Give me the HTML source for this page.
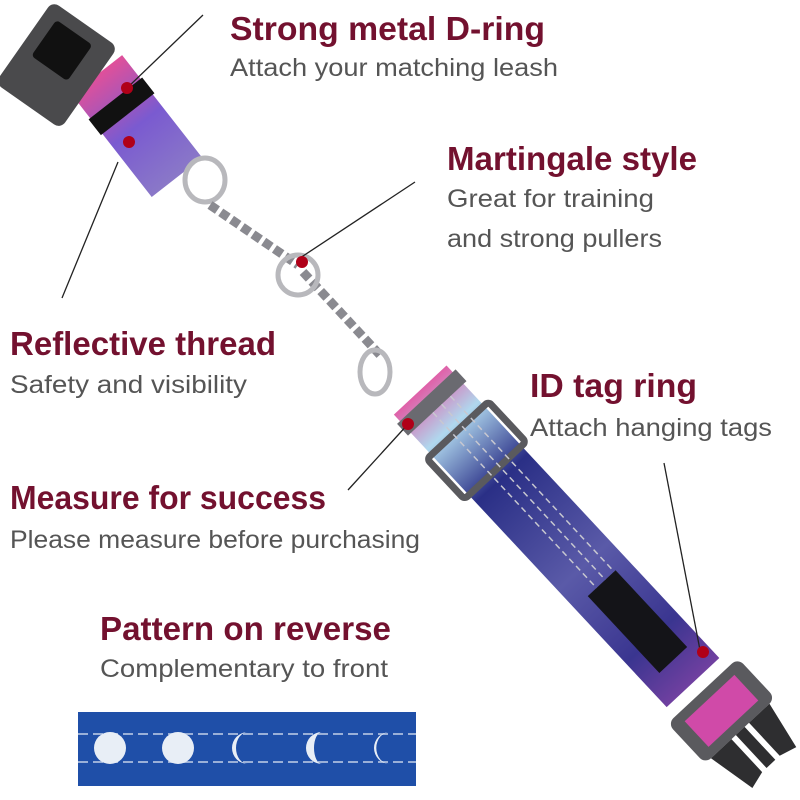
<!DOCTYPE html>
<html><head><meta charset="utf-8"><style>
html,body{margin:0;padding:0;background:#fff;}
svg{display:block;}
.h{font-family:"Liberation Sans",sans-serif;font-weight:bold;fill:#73112f;font-size:33px;}
.s{font-family:"Liberation Sans",sans-serif;fill:#555;font-size:25px;}
</style></head><body>
<svg width="800" height="800" viewBox="0 0 800 800" xmlns="http://www.w3.org/2000/svg">
<defs>
<linearGradient id="g1" x1="0" y1="0" x2="1" y2="0">
<stop offset="0" stop-color="#e0509a"/><stop offset="0.5" stop-color="#7a5ad0"/><stop offset="1" stop-color="#8a78c8"/>
</linearGradient>
<linearGradient id="g2" x1="0" y1="0" x2="1" y2="0">
<stop offset="0" stop-color="#e060a8"/><stop offset="0.12" stop-color="#b0d8ee"/><stop offset="0.3" stop-color="#2a2f86"/><stop offset="0.6" stop-color="#5a5aa8"/><stop offset="0.85" stop-color="#3a3590"/><stop offset="1" stop-color="#7040a0"/>
</linearGradient>
</defs>

<!-- upper strap -->
<g transform="translate(140,130) rotate(52)">
<rect x="-70" y="-32" width="130" height="64" fill="url(#g1)"/>
<path d="M-40 -34 L-20 -34 L-20 34 L-40 34 Z" fill="#111"/>
</g>
<!-- top buckle -->
<g transform="translate(52,68) rotate(35)">
<rect x="-38" y="-55" width="80" height="100" rx="8" fill="#4a4a4c"/>
<rect x="-24" y="-42" width="44" height="44" rx="4" fill="#111"/>
</g>
<!-- rings and chain -->
<ellipse cx="205" cy="180" rx="20" ry="22" fill="none" stroke="#b8b8bc" stroke-width="5"/>
<g stroke="#8a8a90" stroke-width="9" fill="none">
<path d="M210 205 L298 265" stroke-dasharray="9 4"/>
<path d="M303 272 L380 355" stroke-dasharray="9 4"/>
</g>
<circle cx="298" cy="275" r="20" fill="none" stroke="#b8b8bc" stroke-width="5"/>
<ellipse cx="375" cy="372" rx="15" ry="22" fill="none" stroke="#b8b8bc" stroke-width="5"/>
<!-- main strap -->
<g transform="translate(560,540) rotate(47)">
<rect x="-205" y="-36" width="400" height="72" fill="url(#g2)"/>
<rect x="-150" y="-42" width="55" height="84" rx="4" fill="none" stroke="#5a5a5e" stroke-width="7"/>
<rect x="-196" y="-40" width="16" height="80" fill="#6a6a70"/>
<g stroke="#c8c8d0" stroke-width="1.5" stroke-dasharray="6 4" fill="none">
<line x1="-180" y1="-18" x2="160" y2="-18"/><line x1="-180" y1="-6" x2="160" y2="-6"/><line x1="-180" y1="6" x2="160" y2="6"/>
</g>
<rect x="60" y="-20" width="105" height="38" fill="#141418"/>
</g>
<!-- bottom buckle -->
<g transform="translate(730,720) rotate(47)">
<rect x="-40" y="-48" width="55" height="96" rx="8" fill="#5a5a5e"/>
<rect x="-30" y="-34" width="35" height="68" fill="#d04aa8"/>
<path d="M15 -40 L65 -30 L60 -12 L15 -12Z M15 -6 L60 -6 L60 6 L15 6Z M15 12 L60 12 L65 30 L15 40Z" fill="#2e2e30"/>
</g>

<!-- leader lines -->
<g stroke="#222" stroke-width="1.3">
<line x1="127" y1="88" x2="203" y2="15"/>
<line x1="300" y1="258" x2="415" y2="182"/>
<line x1="118" y1="162" x2="62" y2="298"/>
<line x1="409" y1="423" x2="348" y2="490"/>
<line x1="700" y1="650" x2="664" y2="463"/>
</g>
<g fill="#b00018">
<circle cx="127" cy="88" r="6"/><circle cx="129" cy="142" r="6"/><circle cx="302" cy="262" r="6"/>
<circle cx="408" cy="424" r="6"/><circle cx="703" cy="652" r="6"/>
</g>

<!-- texts -->
<text class="h" x="230" y="40" textLength="315" lengthAdjust="spacingAndGlyphs">Strong metal D-ring</text>
<text class="s" x="230" y="76" textLength="328" lengthAdjust="spacingAndGlyphs">Attach your matching leash</text>
<text class="h" x="447" y="170" textLength="250" lengthAdjust="spacingAndGlyphs">Martingale style</text>
<text class="s" x="447" y="207" textLength="207" lengthAdjust="spacingAndGlyphs">Great for training</text>
<text class="s" x="447" y="247" textLength="215" lengthAdjust="spacingAndGlyphs">and strong pullers</text>
<text class="h" x="10" y="355" textLength="266" lengthAdjust="spacingAndGlyphs">Reflective thread</text>
<text class="s" x="10" y="393" textLength="237" lengthAdjust="spacingAndGlyphs">Safety and visibility</text>
<text class="h" x="530" y="397" textLength="167" lengthAdjust="spacingAndGlyphs">ID tag ring</text>
<text class="s" x="530" y="436" textLength="242" lengthAdjust="spacingAndGlyphs">Attach hanging tags</text>
<text class="h" x="10" y="509" textLength="316" lengthAdjust="spacingAndGlyphs">Measure for success</text>
<text class="s" x="10" y="548" textLength="410" lengthAdjust="spacingAndGlyphs">Please measure before purchasing</text>
<text class="h" x="100" y="640" textLength="291" lengthAdjust="spacingAndGlyphs">Pattern on reverse</text>
<text class="s" x="100" y="677" textLength="288" lengthAdjust="spacingAndGlyphs">Complementary to front</text>

<!-- reverse pattern strip -->
<rect x="78" y="712" width="338" height="74" fill="#1f4fa8"/>
<g stroke="#9ab0d8" stroke-width="2" stroke-dasharray="10 5">
<line x1="78" y1="734" x2="416" y2="734"/><line x1="78" y1="762" x2="416" y2="762"/>
</g>
<g fill="#e8eef6">
<circle cx="110" cy="748" r="16"/>
<circle cx="178" cy="748" r="16"/>
<path d="M248 732 A16 16 0 1 0 248 764 A12 16 0 1 1 248 732Z"/>
<path d="M322 732 A16 16 0 1 0 322 764 A8 16 0 1 1 322 732Z"/>
<path d="M390 732 A16 16 0 1 0 390 764 A12 14 0 1 1 390 732Z"/>
</g>
</svg>
</body></html>
